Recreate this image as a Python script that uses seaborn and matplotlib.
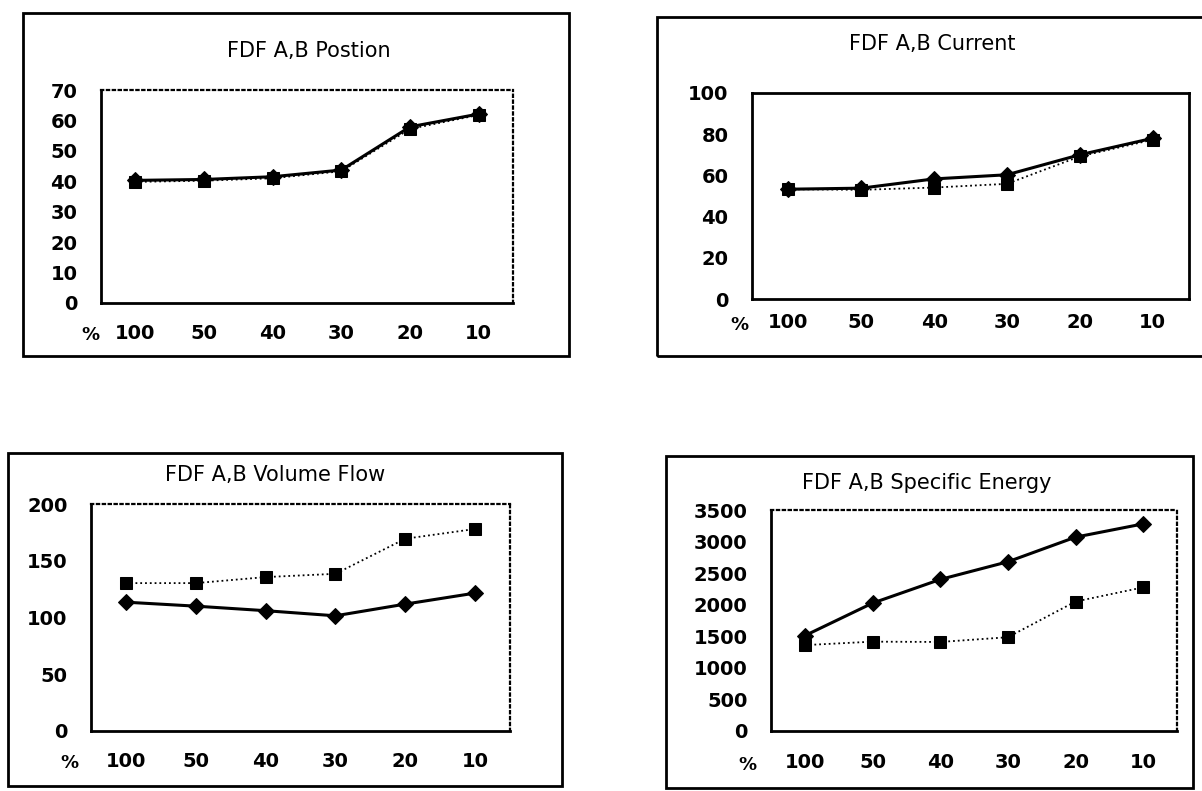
import matplotlib
matplotlib.use("Agg")
import matplotlib.pyplot as plt
from matplotlib.patches import Rectangle
import seaborn as sns

W, H = 1202, 791

categories = ["100", "50", "40", "30", "20", "10"]

position_a = [40.3, 40.6, 41.5, 43.7, 57.9, 62.1]
position_b = [39.8, 40.2, 41.0, 43.3, 57.2, 61.8]

current_a = [53.3, 53.8, 58.3, 60.3, 70.0, 78.0]
current_b = [53.3, 53.0, 54.1, 55.9, 69.2, 77.3]

flow_a = [113.5, 110.0, 106.0, 101.5, 111.8, 121.5]
flow_b = [130.3, 130.3, 135.6, 138.5, 169.4, 178.0]

energy_a = [1510, 2025, 2400, 2680, 3070, 3280]
energy_b = [1360, 1415, 1410, 1485, 2050, 2275]

titles = ["FDF A,B Postion", "FDF A,B Current",
          "FDF A,B Volume Flow", "FDF A,B Specific Energy"]
y_ticks = [list(range(0, 71, 10)), list(range(0, 101, 20)),
           list(range(0, 201, 50)), list(range(0, 3501, 500))]


def fx(x):
    return x / W


def fy(y):
    return 1 - y / H


def add_axes(fig, x0, x1, y0, y1):
    return fig.add_axes([fx(x0), fy(y1), (x1 - x0) / W, (y1 - y0) / H])


def draw_panel(ax, a, b, ticks, xpad, dotted_frame=True):
    sns.lineplot(x=categories, y=a, ax=ax, color="black", marker="D",
                 markersize=8, linewidth=2.2, linestyle="-", sort=False,
                 markeredgecolor="black")
    sns.lineplot(x=categories, y=b, ax=ax, color="black", marker="s",
                 markersize=8, linewidth=1.3, linestyle=":", sort=False,
                 markeredgecolor="black")
    ax.set_xlim(-0.5, 5.5)
    ax.set_ylim(ticks[0], ticks[-1])
    ax.set_yticks(ticks)
    ax.set_xlabel("")
    ax.set_ylabel("")
    ax.tick_params(axis="y", direction="in", length=7, width=1.5, pad=17,
                   labelsize=14, colors="black")
    ax.tick_params(axis="x", length=0, pad=xpad, labelsize=14, colors="black")
    for lab in ax.get_xticklabels() + ax.get_yticklabels():
        lab.set_fontweight("bold")
    for side in ["left", "bottom"]:
        ax.spines[side].set_linewidth(2.0)
        ax.spines[side].set_color("black")
    for side in ["top", "right"]:
        ax.spines[side].set_visible(True)
        ax.spines[side].set_color("black")
        if dotted_frame:
            ax.spines[side].set_linestyle(":")
            ax.spines[side].set_linewidth(1.6)
        else:
            ax.spines[side].set_linewidth(2.0)


sns.set_style("white")
plt.rcParams["font.family"] = ["DejaVu Sans"]
plt.rcParams["text.color"] = "black"

fig = plt.figure(figsize=(W / 100, H / 100), dpi=100)

# outer frames around each chart
for x0, x1, y0, y1 in [(23, 569, 13, 356), (657, 1215, 17, 356),
                       (8, 562, 453, 786), (666, 1193, 456, 788)]:
    fig.patches.append(Rectangle((fx(x0), fy(y1)), (x1 - x0) / W, (y1 - y0) / H,
                                 transform=fig.transFigure, fill=False,
                                 edgecolor="black", linewidth=2.0))

ax1 = add_axes(fig, 101, 513, 90, 303)
draw_panel(ax1, position_a, position_b, y_ticks[0], xpad=15)
ax2 = add_axes(fig, 752, 1189, 93, 299)
draw_panel(ax2, current_a, current_b, y_ticks[1], xpad=10, dotted_frame=False)
ax3 = add_axes(fig, 91, 510, 504, 731)
draw_panel(ax3, flow_a, flow_b, y_ticks[2], xpad=15)
ax4 = add_axes(fig, 771, 1177, 510, 731)
draw_panel(ax4, energy_a, energy_b, y_ticks[3], xpad=16)

for title, (tx, ty) in zip(titles, [(309, 51), (932, 44), (275, 475), (927, 483)]):
    fig.text(fx(tx), fy(ty), title, ha="center", va="center", fontsize=15,
             color="black")

for px, py in [(90, 335), (739, 325), (69, 763), (747, 765)]:
    fig.text(fx(px), fy(py), "%", ha="center", va="center", fontsize=13,
             fontweight="bold", color="black")

fig.savefig("out.png", dpi=100)
plt.close(fig)
